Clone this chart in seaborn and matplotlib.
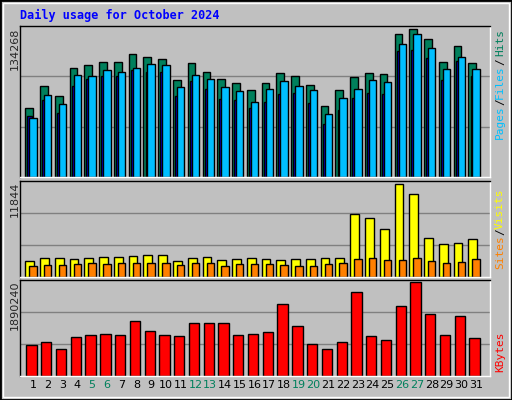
import numpy as np
import matplotlib
matplotlib.use("Agg")
from matplotlib import pyplot as plt
from matplotlib.patches import Rectangle
import seaborn as sns

sns.set_style("white")
plt.rcParams["font.family"] = "DejaVu Sans"

days = np.arange(1, 32)
weekend_days = [5, 6, 12, 13, 19, 20, 26, 27]

# values
hits_max = 134268
hits = np.array([69, 90, 80, 108, 111, 114, 114, 122, 119, 117, 96, 113, 104, 97, 93, 86,
                 93, 103, 100, 91, 71, 86, 99, 103, 102, 142, 147, 137, 114, 130, 113]) / 147 * hits_max
files = np.array([59, 81, 73, 101, 100, 106, 104, 108, 112, 111, 89, 101, 97, 89, 85, 75,
                  87, 95, 90, 86, 63, 78, 87, 96, 94, 132, 142, 128, 107, 119, 107]) / 147 * hits_max
pages = np.array([61, 76, 64, 90, 97, 100, 100, 106, 104, 104, 80, 95, 87, 77, 76, 69,
                  75, 82, 83, 74, 53, 67, 78, 83, 82, 125, 126, 118, 96, 115, 100]) / 147 * hits_max

visits_max = 11844
visits = np.array([16, 19, 19, 18, 19, 20, 20, 21, 22, 22, 16, 19, 20, 17, 18, 19,
                   18, 17, 18, 18, 19, 19, 62, 58, 47, 92, 82, 38, 32, 33, 37]) / 92 * visits_max
sites = np.array([11, 12, 12, 13, 14, 13, 14, 14, 14, 14, 12, 14, 14, 11, 13, 13,
                  13, 12, 11, 11, 13, 14, 18, 19, 17, 17, 19, 16, 14, 15, 18]) / 92 * visits_max

kbytes_max = 1890240
kbytes = np.array([30, 33, 26, 38, 40, 41, 40, 53, 44, 40, 39, 51, 51, 51, 40, 41,
                   43, 70, 48, 31, 26, 33, 81, 39, 35, 68, 91, 60, 40, 58, 37]) / 91 * kbytes_max

BG = "#C0C0C0"
C_HITS, C_FILES, C_PAGES = "#00805C", "#00BFFF", "#0000D0"
C_VISITS, C_SITES, C_KB = "#FFFF00", "#FF8000", "#FF0000"

fig = plt.figure(figsize=(5.12, 4.0), dpi=100)
fig.patch.set_facecolor(BG)


def px_axes(top, bottom):
    return fig.add_axes([20 / 512, 1 - bottom / 400, 470 / 512, (bottom - top) / 400])


def bars(ax, vals, lo, hi, color):
    sns.barplot(x=days + (lo + hi) / 2, y=vals, native_scale=True, width=hi - lo,
                color=color, saturation=1, edgecolor="black", linewidth=1, ax=ax)


def style(ax, top):
    ax.set_facecolor(BG)
    ax.set_xlim(0.12, 31.94)
    ax.set_ylim(0, top)
    for g in (top / 3, 2 * top / 3):
        ax.axhline(g, color="#808080", lw=1, zorder=0)
    ax.set_xticks([])
    ax.set_yticks([])
    ax.set_xlabel("")
    ax.set_ylabel("")
    for s in ("left", "top"):
        ax.spines[s].set_color("#000000")
    for s in ("right", "bottom"):
        ax.spines[s].set_color("white")
    for s in ax.spines.values():
        s.set_linewidth(1)


ax1 = px_axes(26, 177)
bars(ax1, hits, -0.52, 0.0, C_HITS)
bars(ax1, pages, -0.38, -0.1, C_PAGES)
bars(ax1, files, -0.25, 0.25, C_FILES)
style(ax1, hits_max * 150 / 147)

ax2 = px_axes(181, 277)
bars(ax2, visits, -0.52, 0.07, C_VISITS)
bars(ax2, sites, -0.25, 0.25, C_SITES)
style(ax2, visits_max * 94.5 / 92)

ax3 = px_axes(280, 376)
bars(ax3, kbytes, -0.45, 0.25, C_KB)
style(ax3, kbytes_max * 93 / 91)

for d in days:
    ax3.text(d, -0.09, str(d), transform=ax3.get_xaxis_transform(), ha="center", va="center",
             fontsize=8, color=C_HITS if d in weekend_days else "black")

fig.text(20 / 512, 1 - 15 / 400, "Daily usage for October 2024", color="#0000FF",
         family="DejaVu Sans Mono", fontweight="bold", fontsize=8.5, va="center", ha="left")

for txt, y in (("134268", 28), ("11844", 182), ("1890240", 281)):
    fig.text(15 / 512, 1 - y / 400, txt, rotation=90, ha="center", va="top", fontsize=8)


def right_label(parts):
    for txt, col, y in parts:
        fig.text(500 / 512, 1 - y / 400, txt, rotation=90, ha="center", va="center",
                 color=col, family="DejaVu Sans Mono", fontsize=8)


right_label([("Pages", C_FILES, 122), ("/", "black", 102), ("Files", C_FILES, 82),
             ("/", "black", 62), ("Hits", C_HITS, 43)])
right_label([("Sites", C_SITES, 252), ("/", "black", 232), ("Visits", C_VISITS, 209)])
right_label([("KBytes", C_KB, 352)])

fig.patches.append(Rectangle((0, 0), 1, 1, transform=fig.transFigure, fill=False,
                             edgecolor="black", lw=2))
fig.patches.append(Rectangle((3 / 512, 3 / 400), 506 / 512, 394 / 400, transform=fig.transFigure,
                             fill=False, edgecolor="white", lw=1))

fig.savefig("out.png", dpi=100, facecolor=BG)
